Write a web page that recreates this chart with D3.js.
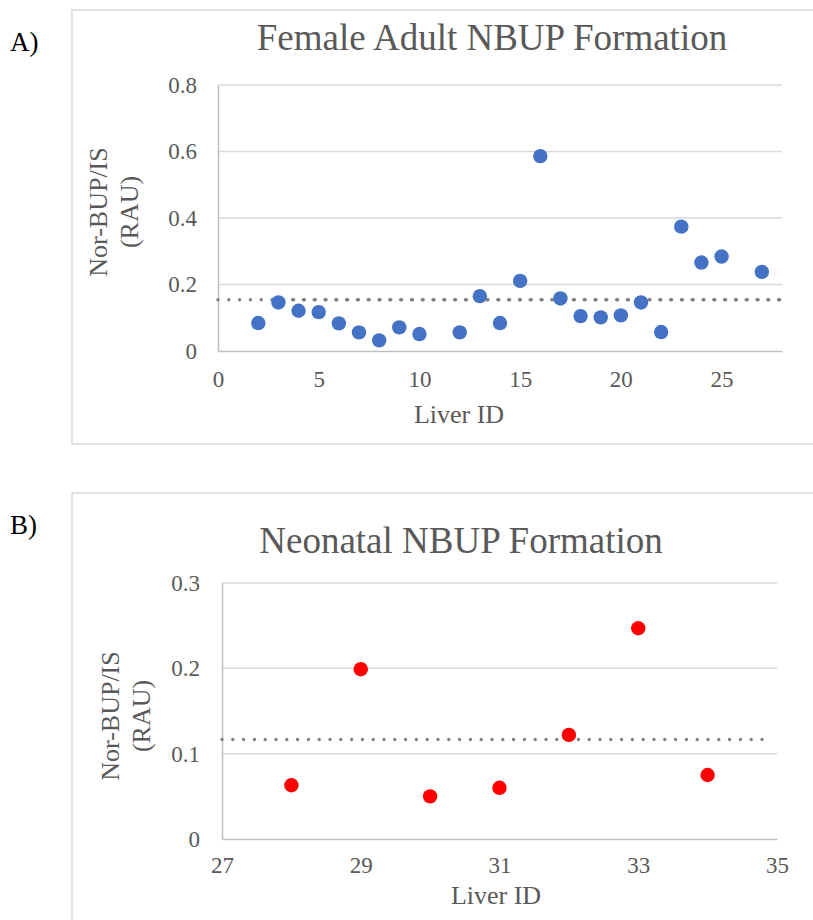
<!DOCTYPE html>
<html>
<head>
<meta charset="utf-8">
<script src="https://cdn.jsdelivr.net/npm/d3@7"></script>
<style>
  html, body { margin: 0; padding: 0; background: #ffffff; }
  svg { display: block; }
  text { font-family: "Liberation Serif", "Times New Roman", serif; }
</style>
</head>
<body>
<svg id="fig" width="813" height="920"></svg>
<script>
// Panel A: female adult livers
const adultIds = [2, 3, 4, 5, 6, 7, 8, 9, 10, 12, 13, 14, 15, 16, 17, 18, 19, 20, 21, 22, 23, 24, 25, 27];
const adultValues = [0.084, 0.146, 0.121, 0.117, 0.083, 0.056, 0.032, 0.071, 0.051, 0.056, 0.165, 0.084,
                     0.211, 0.586, 0.158, 0.105, 0.101, 0.107, 0.146, 0.057, 0.374, 0.266, 0.284, 0.238];
const adultXTicks = [0, 5, 10, 15, 20, 25];
const adultYTicks = [0, 0.2, 0.4, 0.6, 0.8];

// Panel B: neonatal livers
const neonatalIds = [28, 29, 30, 31, 32, 33, 34];
const neonatalValues = [0.063, 0.199, 0.050, 0.060, 0.122, 0.247, 0.075];
const neonatalXTicks = [27, 29, 31, 33, 35];
const neonatalYTicks = [0, 0.1, 0.2, 0.3];

const svg = d3.select("#fig");
const GREY_TEXT = "#595959";

function panel(cfg) {
  const g = svg.append("g");

  // outer chart frame
  g.append("rect")
    .attr("x", cfg.frame[0]).attr("y", cfg.frame[1])
    .attr("width", cfg.frame[2]).attr("height", cfg.frame[3])
    .attr("fill", "#ffffff").attr("stroke", "#D9D9D9").attr("stroke-width", 1.5);

  // panel letter
  g.append("text").attr("x", 10).attr("y", cfg.letterY)
    .attr("font-size", 27).attr("fill", "#000000").text(cfg.letter);

  // title
  g.append("text").attr("x", cfg.titleX).attr("y", cfg.titleY)
    .attr("text-anchor", "middle").attr("font-size", 37).attr("fill", GREY_TEXT)
    .text(cfg.title);

  const x = d3.scaleLinear().domain(cfg.xDomain).range([cfg.left, cfg.right]);
  const y = d3.scaleLinear().domain(cfg.yDomain).range([cfg.bottom, cfg.top]);

  // horizontal gridlines
  g.append("g").selectAll("line")
    .data(cfg.yTicks.filter(v => v !== cfg.yDomain[0]))
    .join("line")
    .attr("x1", cfg.left).attr("x2", cfg.right)
    .attr("y1", d => y(d)).attr("y2", d => y(d))
    .attr("stroke", "#D9D9D9").attr("stroke-width", 1.5);

  // y axis
  const yAxis = g.append("g").attr("transform", `translate(${cfg.left},0)`)
    .call(d3.axisLeft(y).tickValues(cfg.yTicks).tickSize(0).tickPadding(cfg.yPad).tickFormat(d3.format("")));
  yAxis.select(".domain").attr("stroke", "#BFBFBF").attr("stroke-width", 1.5);
  yAxis.selectAll("text").attr("font-size", 23).attr("fill", GREY_TEXT)
    .attr("font-family", "Liberation Serif, Times New Roman, serif");

  // x axis
  const xAxis = g.append("g").attr("transform", `translate(0,${cfg.bottom})`)
    .call(d3.axisBottom(x).tickValues(cfg.xTicks).tickSize(0).tickPadding(cfg.xPad).tickFormat(d3.format("")));
  xAxis.select(".domain").attr("stroke", "#BFBFBF").attr("stroke-width", 1.5);
  xAxis.selectAll("text").attr("font-size", 23).attr("fill", GREY_TEXT)
    .attr("font-family", "Liberation Serif, Times New Roman, serif");

  // axis titles
  g.append("text").attr("x", cfg.xTitleX).attr("y", cfg.xTitleY)
    .attr("text-anchor", "middle").attr("font-size", 26).attr("fill", GREY_TEXT)
    .text("Liver ID");
  const yt = g.append("text")
    .attr("transform", `translate(${cfg.yTitleX},${cfg.yTitleY}) rotate(-90)`)
    .attr("text-anchor", "middle").attr("font-size", 26).attr("fill", GREY_TEXT);
  yt.append("tspan").attr("x", 0).attr("dy", 0).text("Nor-BUP/IS");
  yt.append("tspan").attr("x", 0).attr("dy", 31).text("(RAU)");

  // mean reference line(s), round-dot style
  const mean = d3.mean(cfg.values);
  cfg.meanStarts.forEach(s => {
    g.append("line")
      .attr("x1", x(s)).attr("x2", x(cfg.meanEnd))
      .attr("y1", y(mean)).attr("y2", y(mean))
      .attr("stroke", "#808080").attr("stroke-width", 3.4)
      .attr("stroke-linecap", "round")
      .attr("stroke-dasharray", "0 10.8");
  });

  // data points
  g.append("g").selectAll("circle")
    .data(cfg.ids.map((id, i) => ({ id, v: cfg.values[i] })))
    .join("circle")
    .attr("cx", d => x(d.id)).attr("cy", d => y(d.v))
    .attr("r", 7.2)
    .attr("fill", cfg.color);
}

panel({
  frame: [72, 10, 800, 434],
  letter: "A)", letterY: 51,
  title: "Female Adult NBUP Formation", titleX: 492, titleY: 50,
  ids: adultIds, values: adultValues, color: "#4472C4",
  xDomain: [0, 28], yDomain: [0, 0.8], xTicks: adultXTicks, yTicks: adultYTicks,
  left: 218, right: 782, top: 85, bottom: 351, yPad: 21, xPad: 20,
  xTitleX: 459, xTitleY: 423,
  yTitleX: 107, yTitleY: 212,
  meanStarts: [0, 3.17], meanEnd: 28
});

panel({
  frame: [72, 493, 800, 500],
  letter: "B)", letterY: 534,
  title: "Neonatal NBUP Formation", titleX: 461, titleY: 553,
  ids: neonatalIds, values: neonatalValues, color: "#FF0000",
  xDomain: [27, 35], yDomain: [0, 0.3], xTicks: neonatalXTicks, yTicks: neonatalYTicks,
  left: 222, right: 777, top: 583, bottom: 839, yPad: 22, xPad: 18,
  xTitleX: 496, xTitleY: 904,
  yTitleX: 119, yTitleY: 716,
  meanStarts: [27], meanEnd: 34.9
});
</script>
</body>
</html>
